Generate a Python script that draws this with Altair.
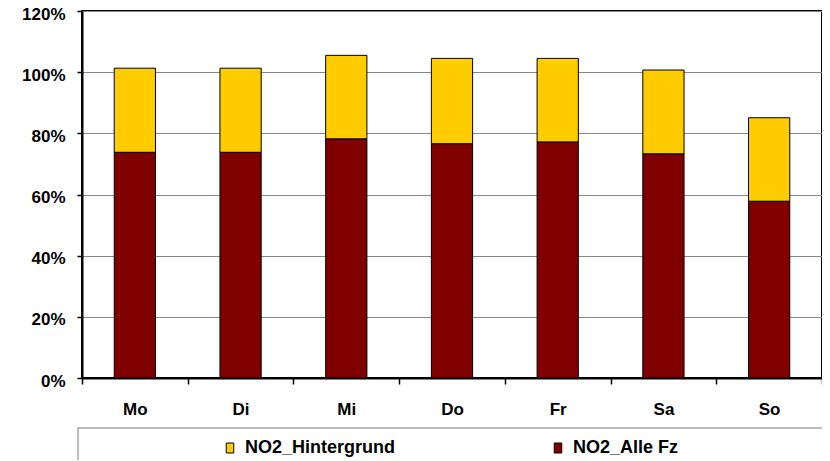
import altair as alt
import pandas as pd

days = ["Mo", "Di", "Mi", "Do", "Fr", "Sa", "So"]
alle_fz = [73.8, 73.8, 78.2, 76.6, 77.2, 73.3, 57.8]
hintergrund = [27.5, 27.5, 27.3, 27.9, 27.3, 27.4, 27.3]
series_names = ["NO2_Hintergrund", "NO2_Alle Fz"]
series_colors = ["#FFCC00", "#800000"]
y_ticks = [0, 0.2, 0.4, 0.6, 0.8, 1.0, 1.2]

rows = []
for d, a, h in zip(days, alle_fz, hintergrund):
    rows.append({"day": d, "series": "NO2_Alle Fz", "value": a / 100, "ord": 0})
    rows.append({"day": d, "series": "NO2_Hintergrund", "value": h / 100, "ord": 1})
df = pd.DataFrame(rows)

FONT = "Liberation Sans"

bars = alt.Chart(df).mark_bar(
    stroke="black", strokeWidth=1, width=alt.RelativeBandSize(0.39)
).encode(
    x=alt.X(
        "day:N", sort=days,
        scale=alt.Scale(paddingInner=0, paddingOuter=0),
        axis=alt.Axis(
            title=None, labelAngle=0, tickBand="extent", grid=False,
            domainColor="black", domainWidth=2, tickColor="black", tickWidth=1.5,
            tickSize=6, labelPadding=17, labelFont=FONT, labelFontSize=17,
            labelFontWeight="bold", labelColor="black",
        ),
    ),
    y=alt.Y(
        "value:Q", stack="zero",
        scale=alt.Scale(domain=[0, 1.2], nice=False),
        axis=alt.Axis(
            title=None, format=".0%", values=y_ticks, grid=True,
            gridColor="#888888", gridWidth=1,
            domainColor="black", domainWidth=2, tickColor="black", tickWidth=1.5,
            tickSize=5, labelPadding=12, labelFont=FONT, labelFontSize=17,
            labelFontWeight="bold", labelColor="black", labelOffset=3,
        ),
    ),
    color=alt.Color(
        "series:N",
        scale=alt.Scale(domain=series_names, range=series_colors),
        legend=alt.Legend(
            title=None, orient="none", legendX=139, legendY=428,
            direction="horizontal",
            symbolType="M-0.75,-1H0.75V1H-0.75Z", symbolSize=100,
            symbolStrokeColor="black", symbolStrokeWidth=1, symbolOpacity=1,
            labelFont=FONT, labelFontSize=18, labelFontWeight="bold",
            labelColor="black", labelOffset=6, columnPadding=153, padding=0,
        ),
    ),
    order=alt.Order("ord:Q"),
)

legend_box = alt.Chart(pd.DataFrame({"a": [0]})).mark_rect(
    fillOpacity=0, stroke="#A8A8A8", strokeWidth=1.5
).encode(
    x=alt.value(-4), x2=alt.value(780), y=alt.value(417), y2=alt.value(500)
)

chart = alt.layer(legend_box, bars).properties(
    width=740, height=367,
    autosize=alt.AutoSizeParams(type="none"),
    padding={"left": 74, "top": 3, "right": 0, "bottom": 82},
).configure_view(
    stroke="black", strokeWidth=2
)

chart.save("out.html", embed_options={"renderer": "svg", "actions": False})
